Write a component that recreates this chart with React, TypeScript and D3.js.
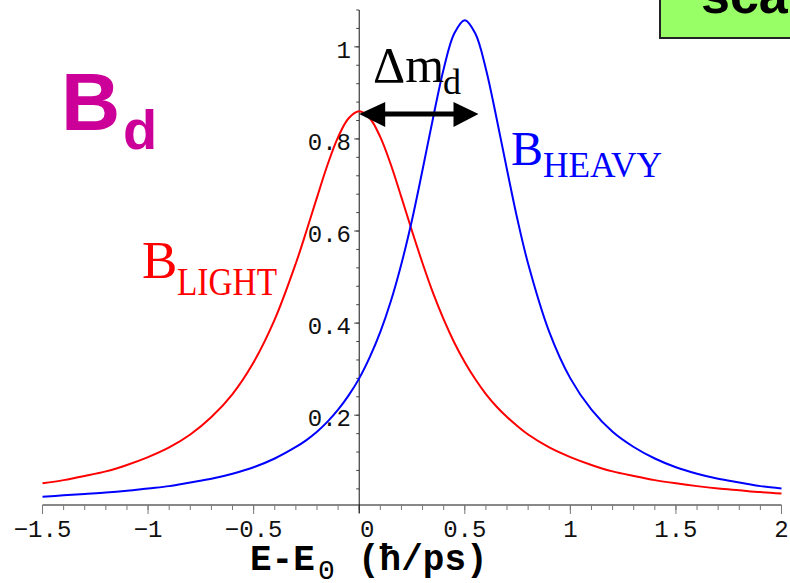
import React from "react";
import * as d3 from "d3";

// energy grid (E - E0, hbar/ps)
const energy = [
  -1.5, -1.4, -1.3, -1.2, -1.1, -1.0, -0.9, -0.8, -0.7, -0.6, -0.5, -0.4,
  -0.3, -0.25, -0.2, -0.15, -0.1, -0.05, 0, 0.05, 0.1, 0.15, 0.2, 0.25, 0.3,
  0.35, 0.4, 0.45, 0.5, 0.55, 0.6, 0.65, 0.7, 0.75, 0.8,
  0.9, 1.0, 1.1, 1.2, 1.3, 1.4, 1.5, 1.6, 1.7, 1.8, 1.9, 2.0,
];

// B light (red)
const lightValues = [
  0.052, 0.059, 0.068, 0.078, 0.092, 0.109, 0.13, 0.158, 0.196, 0.246, 0.315, 0.408,
  0.53, 0.6, 0.673, 0.744, 0.804, 0.845, 0.86, 0.845, 0.804, 0.744, 0.673, 0.6, 0.53,
  0.465, 0.408, 0.358, 0.315, 0.278, 0.246, 0.219, 0.196, 0.176, 0.158,
  0.13, 0.109, 0.092, 0.078, 0.068, 0.059, 0.052, 0.046, 0.041, 0.037, 0.033, 0.03,
];

// B heavy (blue)
const heavyValues = [
  0.023, 0.026, 0.029, 0.032, 0.036, 0.041, 0.046, 0.054, 0.062, 0.073, 0.087, 0.106,
  0.131, 0.146, 0.164, 0.186, 0.212, 0.243, 0.28, 0.326, 0.381, 0.448, 0.529, 0.624, 0.733,
  0.846, 0.952, 1.029, 1.058, 1.029, 0.952, 0.846, 0.733, 0.624, 0.529,
  0.381, 0.28, 0.212, 0.164, 0.131, 0.106, 0.087, 0.073, 0.062, 0.054, 0.046, 0.041,
];

const xTicks = [-1.5, -1, -0.5, 0, 0.5, 1, 1.5, 2];
const xTickLabels = ["\u22121.5", "\u22121", "\u22120.5", "0", "0.5", "1", "1.5", "2"];
const yTicks = [0.2, 0.4, 0.6, 0.8, 1];
const yTickLabels = ["0.2", "0.4", "0.6", "0.8", "1"];

const W = 790;
const H = 583;

export default function App() {
  const x = d3.scaleLinear().domain([-1.5, 2]).range([42.5, 781.5]);
  const y = d3.scaleLinear().domain([0.005, 1.08]).range([505, 10]);

  const line = d3
    .line<number>()
    .x((d, i) => x(energy[i]))
    .y((d) => y(d))
    .curve(d3.curveCatmullRom.alpha(0.5));

  const xMinor = d3.range(-1.5, 2.001, 0.1);
  const yMinor = d3.range(0.04, 1.081, 0.04);
  const x0 = x(0);
  const axisY = y(0.005);
  const arrowY = y(0.854);
  const arrowEnd = x(0.565);

  return (
    <svg
      width={W}
      height={H}
      style={{ position: "absolute", left: 0, top: 0, background: "#fff" }}
    >
      {/* green box top right */}
      <rect x={660} y={-10} width={150} height={48} fill="#99ff66" stroke="#222" strokeWidth={2} />
      <text x={701} y={13} fontFamily="Liberation Sans" fontWeight="bold" fontSize={52} fill="#000">
        sca
      </text>

      {/* x axis */}
      <line x1={x(-1.5)} x2={x(2)} y1={axisY} y2={axisY} stroke="#888" strokeWidth={2} />
      {xMinor.map((t, i) => (
        <line key={"xm" + i} x1={x(t)} x2={x(t)} y1={axisY} y2={axisY + 5} stroke="#777" strokeWidth={1} />
      ))}
      {xTicks.map((t) => (
        <line key={"xt" + t} x1={x(t)} x2={x(t)} y1={axisY} y2={axisY + 9} stroke="#777" strokeWidth={1} />
      ))}
      {xTicks.map((t, i) => (
        <text
          key={"xl" + t}
          x={x(t) + (t === 0 ? 8 : 0)}
          y={537}
          textAnchor="middle"
          fontFamily="Liberation Mono"
          fontSize={24}
          fill="#111"
        >
          {xTickLabels[i]}
        </text>
      ))}

      {/* y axis */}
      <line x1={x0} x2={x0} y1={10} y2={513} stroke="#111" strokeWidth={1} />
      {yMinor.map((t, i) => (
        <line key={"ym" + i} x1={x0 - 3} x2={x0} y1={y(t)} y2={y(t)} stroke="#444" strokeWidth={1} />
      ))}
      {yTicks.map((t) => (
        <line key={"yt" + t} x1={x0 - 5} x2={x0} y1={y(t)} y2={y(t)} stroke="#444" strokeWidth={1} />
      ))}
      {yTicks.map((t, i) => (
        <text
          key={"yl" + t}
          x={351}
          y={y(t) + 11}
          textAnchor="end"
          fontFamily="Liberation Mono"
          fontSize={24}
          fill="#111"
        >
          {yTickLabels[i]}
        </text>
      ))}

      {/* curves */}
      <path d={line(lightValues) || ""} fill="none" stroke="#ff0000" strokeWidth={2} />
      <path d={line(heavyValues) || ""} fill="none" stroke="#0000ff" strokeWidth={2} />

      {/* delta m arrow */}
      <line x1={x0 + 20} x2={arrowEnd - 20} y1={arrowY} y2={arrowY} stroke="#000" strokeWidth={5} />
      <polygon
        points={`${x0},${arrowY} ${x0 + 26},${arrowY - 12} ${x0 + 26},${arrowY + 13}`}
        fill="#000"
      />
      <polygon
        points={`${arrowEnd},${arrowY} ${arrowEnd - 25},${arrowY - 12} ${arrowEnd - 25},${arrowY + 13}`}
        fill="#000"
      />
      <text x={373} y={82} fontFamily="Liberation Serif" fontSize={50} fill="#000">
        Δm
      </text>
      <text x={443} y={94} fontFamily="Liberation Serif" fontSize={36} fill="#000">
        d
      </text>

      {/* B_d */}
      <text x={61} y={130} fontFamily="Liberation Sans" fontWeight="bold" fontSize={82} fill="#cc0099">
        B
      </text>
      <text x={123} y={149} fontFamily="Liberation Sans" fontWeight="bold" fontSize={56} fill="#cc0099">
        d
      </text>

      {/* B light */}
      <text x={142} y={278} fontFamily="Liberation Serif" fontSize={53} fill="#ff0000">
        B
      </text>
      <text
        x={177}
        y={295}
        fontFamily="Liberation Serif"
        fontSize={39}
        fill="#ff0000"
        textLength={100}
        lengthAdjust="spacingAndGlyphs"
      >
        LIGHT
      </text>

      {/* B heavy */}
      <text x={511} y={165} fontFamily="Liberation Serif" fontSize={48} fill="#0000ff">
        B
      </text>
      <text
        x={543}
        y={177}
        fontFamily="Liberation Serif"
        fontSize={36}
        fill="#0000ff"
        textLength={119}
        lengthAdjust="spacingAndGlyphs"
      >
        HEAVY
      </text>

      {/* x axis title */}
      <text x={250} y={570} fontFamily="Liberation Mono" fontWeight="bold" fontSize={36} fill="#000">
        E-E
      </text>
      <text x={318} y={579} fontFamily="Liberation Mono" fontSize={28} fill="#000">
        0
      </text>
      <text x={358} y={570} fontFamily="Liberation Mono" fontWeight="bold" fontSize={36} fill="#000">
        (ħ/ps)
      </text>
    </svg>
  );
}
